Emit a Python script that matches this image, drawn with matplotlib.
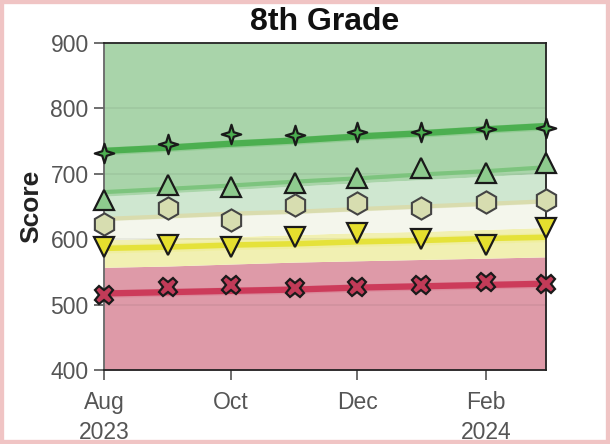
import matplotlib
matplotlib.use("Agg")
import matplotlib.pyplot as plt
import matplotlib.patches as mpatches
from matplotlib.path import Path
import numpy as np
import pandas as pd

# ---- data ----
months = ["2023-08-01", "2023-09-01", "2023-10-01", "2023-11-01",
          "2023-12-01", "2024-01-01", "2024-02-01", "2024-03-01"]
star_scores = [732, 745, 761, 759, 764, 764, 768, 770]
tri_up_scores = [660, 683, 680, 686, 693, 709, 701, 716]
hex_scores = [623, 648, 629, 652, 655, 648, 657, 660]
tri_down_scores = [588, 591, 588, 603, 609, 600, 591, 617]
x_scores = [515, 527, 530, 525, 527, 530, 535, 531]

# background band boundaries (per month)
red_top = [557, 559, 562, 565, 567, 569, 571, 573]
yellow_top = [599, 602, 604, 607, 610, 612, 615, 618]
beige_line = [631, 635, 639, 642, 646, 650, 654, 658]
green_low = [666, 671, 676, 681, 686, 691, 696, 701]
green_mid_line = [672, 677, 682, 688, 693, 699, 704, 710]
star_trend = [735, 740, 746, 751, 757, 762, 768, 773]
yellow_trend = [586, 588, 591, 593, 596, 598, 601, 603]
red_trend = [517, 519, 521, 523, 526, 528, 530, 532]

yticks = [400, 500, 600, 700, 800, 900]
xtick_dates = ["2023-08-01", "2023-10-01", "2023-12-01", "2024-02-01"]
xtick_labels = ["Aug\n2023", "Oct", "Dec", "Feb\n2024"]

plt.rcParams['font.family'] = ['Liberation Sans', 'DejaVu Sans']

dates = pd.to_datetime(months)
fig = plt.figure(figsize=(6.10, 4.44), dpi=100)
ax = fig.add_axes([104/610, 1-370/444, (546-104)/610, (370-43)/444])

lo = np.full(len(dates), 400)
hi = np.full(len(dates), 900)
ax.fill_between(dates, lo, red_top, color="#de9aa8", lw=0, zorder=0)
ax.fill_between(dates, red_top, yellow_top, color="#f1f0b2", lw=0, zorder=0)
ax.fill_between(dates, yellow_top, beige_line, color="#f4f6ec", lw=0, zorder=0)
ax.fill_between(dates, beige_line, green_low, color="#cfe7d0", lw=0, zorder=0)
ax.fill_between(dates, green_low, hi, color="#a9d4aa", lw=0, zorder=0)

for yv in [500, 600, 700, 800]:
    ax.axhline(yv, color="#000000", alpha=0.06, lw=1.2, zorder=0.5)

def trend(vals, halo_c, line_c, hw, lw, alpha_h=0.5):
    v = np.array(vals)
    ax.fill_between(dates, v - hw, v + hw, color=halo_c, alpha=alpha_h, lw=0, zorder=1)
    ax.plot(dates, v, color=line_c, lw=lw, zorder=1.5, solid_capstyle="butt")

trend(star_trend, "#7cc47d", "#4caf50", 6, 4.5)
trend(green_mid_line, "#a9d6a9", "#7dc47e", 6, 3, alpha_h=0.6)
trend(beige_line, "#e4e6c4", "#d9dcae", 3, 3)
trend(yellow_trend, "#efee90", "#e5e23a", 7, 4)
trend(red_trend, "#d87b90", "#cc3b5a", 6, 4.5)

# 4-point sparkle marker
ang = np.deg2rad(np.arange(0, 360, 45) + 90)
rad = np.array([1.0, 0.33] * 4)
verts = np.column_stack([rad * np.cos(ang), rad * np.sin(ang)])
verts = np.vstack([verts, verts[:1]])
codes = [Path.MOVETO] + [Path.LINETO] * 7 + [Path.CLOSEPOLY]
sparkle = Path(verts, codes)

mk = dict(ls="none", markeredgecolor="#1a1a1a", markeredgewidth=1.6, zorder=3, clip_on=False)
ax.plot(dates, star_scores, marker=sparkle, markersize=14, markerfacecolor="#4caf50", **mk)
ax.plot(dates, tri_up_scores, marker="^", markersize=15, markerfacecolor="#8ecb8e", **mk)
ax.plot(dates, hex_scores, marker="h", markersize=16, markerfacecolor="#d7ddb0",
        ls="none", markeredgecolor="#444444", markeredgewidth=1.5, zorder=3, clip_on=False)
ax.plot(dates, tri_down_scores, marker="v", markersize=15, markerfacecolor="#e5df2e", **mk)
ax.plot(dates, x_scores, marker="X", markersize=13, markerfacecolor="#c23b58", **mk)

ax.set_xlim(dates[0], dates[-1])
ax.set_ylim(400, 900)
ax.set_yticks(yticks)
ax.set_xticks(pd.to_datetime(xtick_dates))
ax.set_xticklabels(xtick_labels, linespacing=1.4)
ax.tick_params(axis="both", labelsize=16.5, colors="#555555", labelcolor="#555555",
               length=7, width=1.2, direction="out")
ax.tick_params(axis="x", pad=8)
ax.tick_params(axis="y", pad=4)
for s in ax.spines.values():
    s.set_color("#222222")
    s.set_linewidth(1.3)
ax.spines["left"].set_color("#666666")

ax.set_ylabel("Score", fontsize=19, fontweight="bold", color="#222222", labelpad=5)
fig.text(325/610, 1-22/444, "8th Grade", ha="center", va="center",
         fontsize=23, fontweight="bold", color="#111111")

fig.patches.append(mpatches.Rectangle((0, 0), 1, 1, transform=fig.transFigure,
                                      fill=False, edgecolor="#f0c4c4", lw=6))

fig.savefig("out.png", dpi=100)
